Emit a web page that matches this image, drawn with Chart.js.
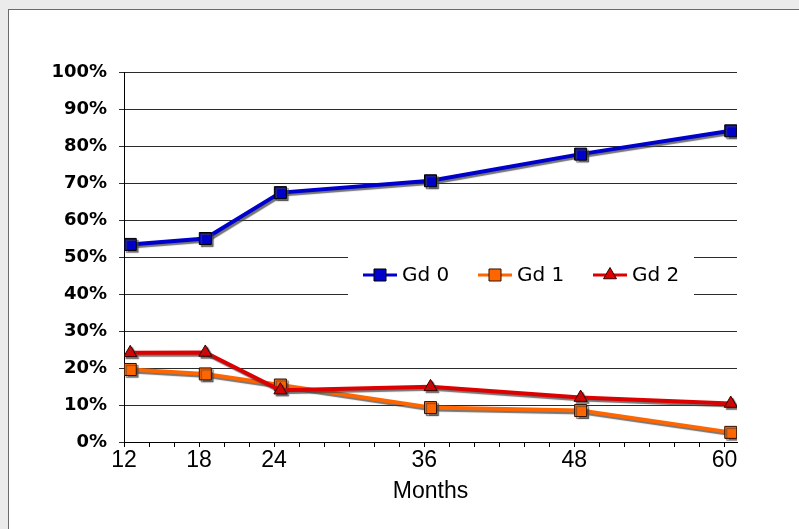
<!DOCTYPE html>
<html>
<head>
<meta charset="utf-8">
<script src="https://cdn.jsdelivr.net/npm/chart.js@4/dist/chart.umd.min.js"></script>
<style>
  html, body { margin: 0; padding: 0; overflow: hidden; background: #ebebeb; }
  #frame { position: absolute; left: 8px; top: 9px; width: 900px; height: 600px; background: #fff;
           border-left: 1px solid #6b6b6b; border-top: 1px solid #6b6b6b; }
  #wrap { position: absolute; left: 0; top: 0; width: 799px; height: 529px; }
</style>
</head>
<body>
<div id="frame"></div>
<div id="wrap"><canvas id="chart" width="799" height="529"></canvas></div>
<script>
// --- data ---
const months = [12, 18, 24, 36, 48, 60];
const gd0 = [53.4, 55.0, 67.4, 70.6, 77.8, 84.1];
const gd1 = [19.6, 18.4, 15.4, 9.3, 8.5, 2.6];
const gd2 = [24.1, 24.2, 14.0, 14.9, 12.0, 10.4];
const monthLabels = [12, 18, 24, 36, 48, 60];
const percentTicks = [0, 10, 20, 30, 40, 50, 60, 70, 80, 90, 100];

// Excel puts each point in the middle of its month bin
const toPoints = vals => vals.map((v, i) => ({ x: months[i] + 0.5, y: v }));

// gray drop shadow under lines and markers
const shadowPlugin = {
    id: 'shadow',
    beforeDatasetDraw(chart) {
        const ctx = chart.ctx;
        ctx.save();
        ctx.shadowColor = 'rgba(70, 70, 70, 0.75)';
        ctx.shadowOffsetX = 2;
        ctx.shadowOffsetY = 2;
        ctx.shadowBlur = 1;
    },
    afterDatasetDraw(chart) {
        chart.ctx.restore();
    }
};

// legend sits inside the plot, on a white box over the gridlines
const boxLegend = {
    id: 'boxLegend',
    afterDatasetsDraw(chart) {
        const ctx = chart.ctx;
        ctx.save();
        ctx.fillStyle = '#fff';
        ctx.fillRect(348, 250, 346, 50);
        chart.data.datasets.forEach((ds, i) => {
            const x = 363 + i * 115;
            const y = 275;
            ctx.strokeStyle = ds.borderColor;
            ctx.lineWidth = 3;
            ctx.beginPath();
            ctx.moveTo(x, y);
            ctx.lineTo(x + 34, y);
            ctx.stroke();
            ctx.fillStyle = ds.pointBackgroundColor;
            ctx.strokeStyle = ds.pointBorderColor;
            ctx.lineWidth = 1;
            Chart.helpers.drawPoint(ctx, { pointStyle: ds.pointStyle, radius: ds.pointRadius, rotation: 0, borderWidth: 1 }, x + 17, y);
            ctx.fillStyle = '#000';
            ctx.font = '20px "DejaVu Sans"';
            ctx.textBaseline = 'middle';
            ctx.textAlign = 'left';
            ctx.fillText(ds.label, x + 39, y + 1);
        });
        ctx.restore();
    }
};

new Chart(document.getElementById('chart'), {
    type: 'line',
    data: {
        datasets: [{
            label: 'Gd 0',
            data: toPoints(gd0),
            borderColor: '#0000cc',
            borderWidth: 4,
            pointStyle: 'rect',
            pointRadius: 8.5,
            pointBackgroundColor: '#0000cc',
            pointBorderColor: '#000000',
            pointBorderWidth: 1,
            order: 2
        }, {
            label: 'Gd 1',
            data: toPoints(gd1),
            borderColor: '#ff6600',
            borderWidth: 4,
            pointStyle: 'rect',
            pointRadius: 8.5,
            pointBackgroundColor: '#ff6600',
            pointBorderColor: '#331100',
            pointBorderWidth: 1,
            order: 1
        }, {
            label: 'Gd 2',
            data: toPoints(gd2),
            borderColor: '#dd0000',
            borderWidth: 4,
            pointStyle: 'triangle',
            pointRadius: 7.5,
            pointBackgroundColor: '#dd0000',
            pointBorderColor: '#330000',
            pointBorderWidth: 1,
            order: 0
        }]
    },
    options: {
        responsive: false,
        animation: false,
        layout: { padding: { left: 0, top: 72, right: 62, bottom: 0 } },
        plugins: {
            legend: { display: false },
            tooltip: { enabled: false }
        },
        scales: {
            x: {
                type: 'linear',
                min: 12,
                max: 61,
                afterBuildTicks(scale) {
                    const t = [];
                    for (let v = 12; v <= 60; v += 2) t.push({ value: v });
                    scale.ticks = t;
                },
                afterFit(scale) { scale.height = 87; },
                ticks: {
                    autoSkip: false,
                    maxRotation: 0,
                    padding: 0,
                    color: '#000',
                    font: { family: '"Liberation Sans", Arial', size: 23 },
                    callback: v => monthLabels.includes(v) ? String(v) : ''
                },
                grid: { drawOnChartArea: false, drawTicks: true, tickLength: 5, color: '#000' },
                border: { color: '#000', width: 1 },
                title: {
                    display: true,
                    text: 'Months',
                    color: '#000',
                    font: { family: '"Liberation Sans", Arial', size: 23 },
                    padding: { top: 0, bottom: 24 }
                }
            },
            y: {
                min: 0,
                max: 100,
                afterBuildTicks(scale) {
                    scale.ticks = percentTicks.map(v => ({ value: v }));
                },
                afterFit(scale) { scale.width = 124; },
                ticks: {
                    padding: 12,
                    color: '#000',
                    font: { family: '"DejaVu Sans"', size: 18, weight: 'bold' },
                    callback: v => v + '%'
                },
                grid: { color: '#2b2b2b', tickLength: 5 },
                border: { color: '#000', width: 1 }
            }
        }
    },
    plugins: [shadowPlugin, boxLegend]
});
</script>
</body>
</html>
